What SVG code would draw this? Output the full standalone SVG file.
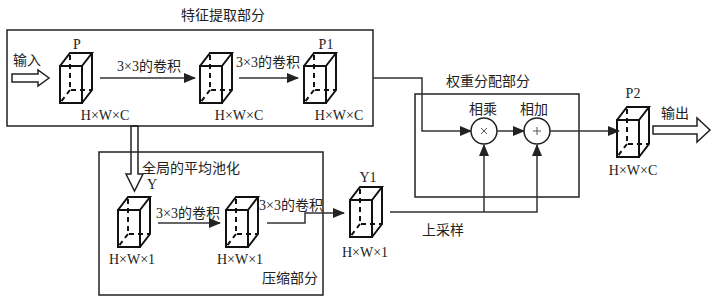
<svg xmlns="http://www.w3.org/2000/svg" width="713" height="303" viewBox="0 0 713 303">
<style>
text{font-family:"Liberation Serif","Noto Sans CJK SC",serif;font-size:14px;fill:#222}
.c{text-anchor:middle}
.box{fill:none;stroke:#222;stroke-width:1.5}
.ln{fill:none;stroke:#333;stroke-width:1.5}
.cube{fill:none;stroke:#111;stroke-width:2;stroke-linejoin:miter}
.hid{fill:none;stroke:#111;stroke-width:2;stroke-dasharray:5,4}
.hollow{fill:#fff;stroke:#222;stroke-width:1.5}
</style>
<defs>
<marker id="ah" markerWidth="12" markerHeight="10" refX="11" refY="5" orient="auto" markerUnits="userSpaceOnUse">
<path d="M0,0 L12,5 L0,10 Z" fill="#222"/>
</marker>
<g id="cube">
<rect x="0" y="0" width="22" height="37" class="cube"/>
<path d="M0,0 L10,-13 L32,-13 L22,0 M32,-13 L32,24 L22,37" class="cube"/>
<path d="M10,-11 L10,24 L32,24 M10,24 L0,37" class="hid"/>
</g>
</defs>

<g id="feature-box">
<rect x="7" y="30" width="366" height="96" class="box"/>
<text x="223" y="20" class="c">特征提取部分</text>
</g>
<g id="weight-box">
<rect x="415" y="94" width="164" height="103" class="box"/>
<text x="488" y="86" class="c">权重分配部分</text>
</g>
<g id="compress-box">
<rect x="99" y="152" width="224" height="143" class="box"/>
<text x="290" y="283" class="c">压缩部分</text>
</g>

<g id="input">
<text x="27" y="65" class="c">输入</text>
<polygon points="12,74 38,74 38,70 49,78 38,86 38,82 12,82" class="hollow"/>
</g>
<g id="P">
<use href="#cube" x="60" y="66"/>
<text x="77" y="49" class="c">P</text>
<text x="105" y="120" class="c">H×W×C</text>
</g>
<g id="conv-mid">
<use href="#cube" x="200" y="66"/>
<text x="239" y="120" class="c">H×W×C</text>
</g>
<g id="P1">
<use href="#cube" x="304" y="66"/>
<text x="326" y="49" class="c">P1</text>
<text x="339" y="120" class="c">H×W×C</text>
</g>
<g id="mul">
<circle cx="484" cy="131" r="13" fill="#fff" stroke="#222" stroke-width="1.5"/>
<path d="M481,128 L487,134 M487,128 L481,134" stroke="#555" stroke-width="1"/>
<text x="483" y="114" class="c">相乘</text>
</g>
<g id="add">
<circle cx="537" cy="131" r="13" fill="#fff" stroke="#222" stroke-width="1.5"/>
<path d="M533,131 L541,131 M537,127 L537,135" stroke="#555" stroke-width="1"/>
<text x="534" y="114" class="c">相加</text>
</g>
<g id="P2">
<use href="#cube" x="617" y="120"/>
<text x="633" y="98" class="c">P2</text>
<text x="633" y="175" class="c">H×W×C</text>
</g>
<g id="output">
<text x="675" y="118" class="c">输出</text>
<polygon points="653,126 697,126 697,118 710,130 697,142 697,134 653,134" class="hollow"/>
</g>
<g id="Y">
<use href="#cube" x="118" y="210"/>
<text x="152" y="189" class="c">Y</text>
<text x="132" y="264" class="c">H×W×1</text>
</g>
<g id="conv-y">
<use href="#cube" x="226" y="210"/>
<text x="240" y="264" class="c">H×W×1</text>
</g>
<g id="Y1">
<use href="#cube" x="350" y="200"/>
<text x="368" y="182" class="c">Y1</text>
<text x="365" y="257" class="c">H×W×1</text>
</g>

<g id="connectors">
<line x1="100" y1="78" x2="195" y2="78" class="ln" marker-end="url(#ah)"/>
<text x="149" y="71" class="c">3×3的卷积</text>
<line x1="239" y1="78" x2="298" y2="78" class="ln" marker-end="url(#ah)"/>
<text x="268" y="67" class="c">3×3的卷积</text>
<polyline points="373,78 422,78 422,131 471,131" class="ln" marker-end="url(#ah)"/>
<line x1="497" y1="131" x2="524" y2="131" class="ln" marker-end="url(#ah)"/>
<line x1="550" y1="131" x2="619" y2="131" class="ln" marker-end="url(#ah)"/>
<polygon points="131,126 131,174 126,174 134.5,191 143,174 138,174 138,126" fill="none" stroke="#222" stroke-width="1.5"/>
<text x="142" y="173">全局的平均池化</text>
<line x1="158" y1="223" x2="220" y2="223" class="ln" marker-end="url(#ah)"/>
<text x="188" y="218" class="c">3×3的卷积</text>
<polyline points="267,223 305,223 305,213 344,213" class="ln" marker-end="url(#ah)"/>
<text x="291" y="210" class="c">3×3的卷积</text>
<polyline points="390,212 537,212 537,145" class="ln" marker-end="url(#ah)"/>
<line x1="484" y1="212" x2="484" y2="145" class="ln" marker-end="url(#ah)"/>
<text x="443" y="235" class="c">上采样</text>
</g>
</svg>
